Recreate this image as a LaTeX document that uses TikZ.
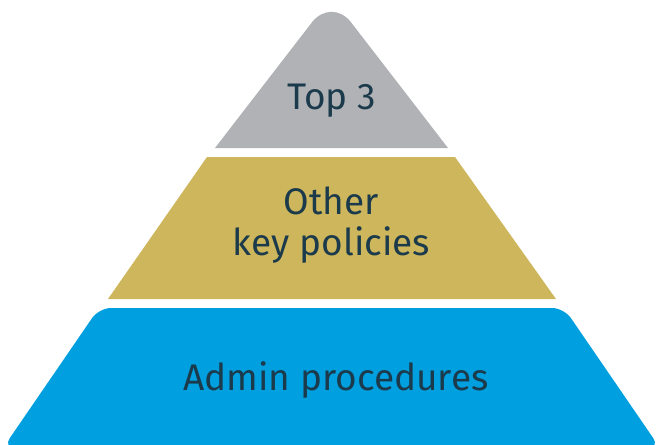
\documentclass[tikz,border=0pt]{standalone}
\usepackage{fontspec}
\setmainfont{Fira Sans}
\definecolor{tiergrey}{HTML}{B1B2B5}
\definecolor{tiergold}{HTML}{CDB65B}
\definecolor{tierblue}{HTML}{009FDF}
\definecolor{tiertext}{HTML}{1B3A4B}
\begin{document}
\begin{tikzpicture}[x=1pt,y=-1pt,
  lbl/.style={text=tiertext,font=\fontsize{37}{41}\selectfont,align=center,inner sep=0pt}]
\useasboundingbox (0,0) rectangle (657,445);
% top tier
\fill[tiergrey] (215,148) [rounded corners=32] -- (331.5,-3) [sharp corners] -- (448,148) -- cycle;
% middle tier
\fill[tiergold] (207,157) -- (455,157) -- (556,299) -- (108,299) -- cycle;
% bottom tier
\fill[tierblue,rounded corners=12] (99,308) -- (564,308) -- (660,448) -- (3,448) -- cycle;
\node[lbl] (top) at (331.5,101) {Top 3};
\node[lbl] (mid) at (331.5,225) {Other\\key policies};
\node[lbl] (base) at (336,380) {Admin procedures};
\end{tikzpicture}
\end{document}
